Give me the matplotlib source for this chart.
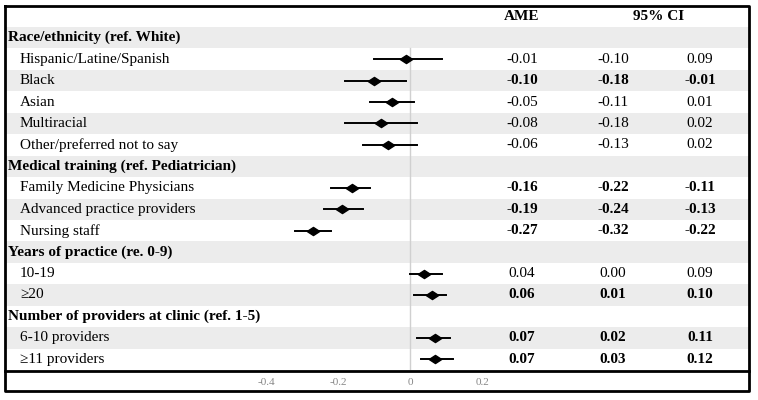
import matplotlib.pyplot as plt

plt.rcParams['font.family'] = ['Liberation Serif', 'DejaVu Serif']

# 資料
labels = ['Race/ethnicity (ref. White)', 'Hispanic/Latine/Spanish', 'Black', 'Asian',
          'Multiracial', 'Other/preferred not to say',
          'Medical training (ref. Pediatrician)', 'Family Medicine Physicians',
          'Advanced practice providers', 'Nursing staff',
          'Years of practice (re. 0-9)', '10-19', '\u226520',
          'Number of providers at clinic (ref. 1-5)', '6-10 providers', '\u226511 providers']
is_header = [True, False, False, False, False, False, True, False, False, False,
             True, False, False, True, False, False]
ame = [None, -0.01, -0.10, -0.05, -0.08, -0.06, None, -0.16, -0.19, -0.27,
       None, 0.04, 0.06, None, 0.07, 0.07]
ci_low = [None, -0.10, -0.18, -0.11, -0.18, -0.13, None, -0.22, -0.24, -0.32,
          None, 0.00, 0.01, None, 0.02, 0.03]
ci_high = [None, 0.09, -0.01, 0.01, 0.02, 0.02, None, -0.11, -0.13, -0.22,
           None, 0.09, 0.10, None, 0.11, 0.12]
significant = [False, False, True, False, False, False, False, True, True, True,
               False, False, True, False, True, True]
xticks = [-0.4, -0.2, 0, 0.2]

W, H = 758, 400
fig = plt.figure(figsize=(W / 100, H / 100), dpi=100)

# 底層 (像素座標)
bg = fig.add_axes([0, 0, 1, 1])
bg.set_xlim(0, W)
bg.set_ylim(H, 0)
bg.axis('off')

top, bottom = 27, 370
n = len(labels)
rh = (bottom - top) / n
for i in range(n):
    y0 = top + i * rh
    if i % 2 == 0:
        bg.fill_between([6, 749], y0, y0 + rh, color='#ececec', lw=0)
    yc = y0 + rh / 2
    if is_header[i]:
        bg.text(8, yc, labels[i], fontsize=11, fontweight='bold', va='center', ha='left')
    else:
        bg.text(20, yc, labels[i], fontsize=11, va='center', ha='left')
        fw = 'bold' if significant[i] else 'normal'
        bg.text(522, yc, '%.2f' % ame[i], fontsize=11, fontweight=fw, va='center', ha='center')
        bg.text(613, yc, '%.2f' % ci_low[i], fontsize=11, fontweight=fw, va='center', ha='center')
        bg.text(700, yc, '%.2f' % ci_high[i], fontsize=11, fontweight=fw, va='center', ha='center')

bg.text(522, 16, 'AME', fontsize=11, fontweight='bold', va='center', ha='center')
bg.text(659, 16, '95% CI', fontsize=11, fontweight='bold', va='center', ha='center')

# 框線
bg.plot([5, 749, 749, 5, 5], [6, 6, 391, 391, 6], color='black', lw=2)
bg.plot([5, 749], [370.5, 370.5], color='black', lw=2)

# 森林圖
x0_px, scale = 410, 360.0
left_px, right_px = 220, 500
ax = fig.add_axes([left_px / W, (H - bottom) / H, (right_px - left_px) / W, (bottom - top) / H])
ax.set_xlim((left_px - x0_px) / scale, (right_px - x0_px) / scale)
ax.set_ylim(n - 0.5, -0.5)
ax.patch.set_alpha(0)
for s in ax.spines.values():
    s.set_visible(False)
ax.plot([0, 0], [0.5, n - 0.5], color='#d0d0d0', lw=1, zorder=1)

diamond = [(-1, 0), (0, 0.65), (1, 0), (0, -0.65), (-1, 0)]
for i in range(n):
    if ame[i] is None:
        continue
    ax.plot([ci_low[i], ci_high[i]], [i, i], color='black', lw=1.4, zorder=2)
    ax.plot(ame[i], i, marker=diamond, color='black', markersize=9, zorder=3)

ax.set_yticks([])
ax.set_xticks(xticks)
ax.set_xticklabels(['-0.4', '-0.2', '0', '0.2'], fontsize=8, color='#888888')
ax.tick_params(axis='x', length=0, pad=6)

plt.savefig('out.png', dpi=100)
